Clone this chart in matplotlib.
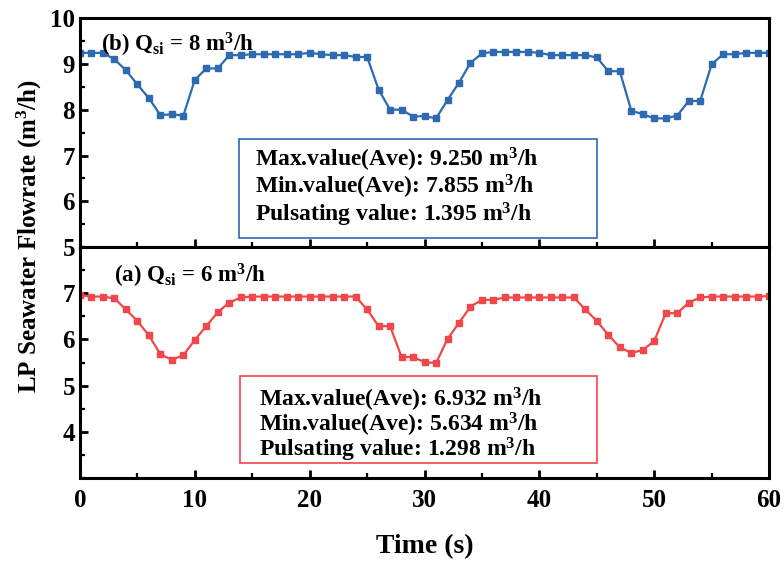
import numpy as np
import matplotlib
matplotlib.use("Agg")
import matplotlib.pyplot as plt
from matplotlib.patches import Rectangle
from matplotlib.ticker import MultipleLocator

plt.rcParams['font.family'] = ['Liberation Serif']
plt.rcParams['font.weight'] = 'bold'
plt.rcParams['mathtext.fontset'] = 'custom'
plt.rcParams['mathtext.rm'] = 'Liberation Serif:bold'
plt.rcParams['mathtext.bf'] = 'Liberation Serif:bold'
plt.rcParams['mathtext.it'] = 'Liberation Serif:bold'

# Data (time in s, flowrate in m3/h)
time = np.arange(0, 61)
flow_8 = [9.24, 9.24, 9.24, 9.10, 8.86, 8.55, 8.25, 7.88, 7.90, 7.87,
          8.65, 8.90, 8.90, 9.19, 9.19, 9.21, 9.21, 9.21, 9.21, 9.21,
          9.24, 9.21, 9.19, 9.19, 9.15, 9.15, 8.44, 8.00, 8.00, 7.85,
          7.86, 7.81, 8.21, 8.59, 9.02, 9.23, 9.26, 9.26, 9.26, 9.26,
          9.24, 9.19, 9.19, 9.19, 9.19, 9.14, 8.84, 8.84, 7.98, 7.90,
          7.81, 7.81, 7.87, 8.19, 8.19, 8.99, 9.21, 9.21, 9.24, 9.24,
          9.24]
flow_6 = [6.96, 6.93, 6.93, 6.89, 6.65, 6.40, 6.09, 5.68, 5.56, 5.66,
          5.99, 6.29, 6.59, 6.80, 6.91, 6.93, 6.93, 6.93, 6.93, 6.93,
          6.93, 6.93, 6.93, 6.93, 6.93, 6.65, 6.29, 6.29, 5.62, 5.62,
          5.51, 5.49, 6.01, 6.36, 6.71, 6.86, 6.86, 6.91, 6.91, 6.91,
          6.91, 6.91, 6.91, 6.91, 6.65, 6.40, 6.10, 5.83, 5.71, 5.77,
          5.97, 6.57, 6.57, 6.80, 6.91, 6.93, 6.93, 6.93, 6.93, 6.93,
          6.94]

stats_8 = ["Max.value(Ave): 9.250 m$^3$/h",
           "Min.value(Ave): 7.855 m$^3$/h",
           "Pulsating value: 1.395 m$^3$/h"]
stats_6 = ["Max.value(Ave): 6.932 m$^3$/h",
           "Min.value(Ave): 5.634 m$^3$/h",
           "Pulsating value: 1.298 m$^3$/h"]

blue = "#2E6AB2"
red = "#F0474B"

fig = plt.figure(figsize=(7.84, 5.63), dpi=100)
axTop = fig.add_axes([0.102, 0.561, 0.879, 0.407])
axBot = fig.add_axes([0.102, 0.151, 0.879, 0.410], sharex=axTop)


def styleAxis(ax):
    for sp in ax.spines.values():
        sp.set_linewidth(2.2)
    ax.tick_params(axis='both', which='major', direction='in', length=6, width=2,
                   labelsize=18, right=False, top=False)
    ax.tick_params(axis='x', which='major', pad=8)
    ax.tick_params(axis='both', which='minor', direction='in', length=3.5, width=1.6,
                   right=False, top=False)
    ax.xaxis.set_minor_locator(MultipleLocator(5))
    ax.yaxis.set_minor_locator(MultipleLocator(0.5))


# Top panel: Qsi = 8
axTop.plot(time, flow_8, color=blue, marker='s', markersize=5, linewidth=1.6)
axTop.set_ylim(5, 10)
axTop.set_yticks([5, 6, 7, 8, 9, 10])
styleAxis(axTop)
axTop.tick_params(axis='x', labelbottom=False)
axTop.text(0.03, 0.945, r"(b) $\mathrm{Q_{si}}$ = 8 m$^3$/h", transform=axTop.transAxes,
           fontsize=16.5, fontweight='bold', va='top', ha='left')
axTop.add_patch(Rectangle((0.231, 0.038), 0.519, 0.434, transform=axTop.transAxes,
                          fill=False, edgecolor=blue, linewidth=1.2))
for i, s in enumerate(stats_8):
    axTop.text(0.254, 0.382 - i * 0.12, s, transform=axTop.transAxes,
               fontsize=17, fontweight='bold', va='center', ha='left')

# Bottom panel: Qsi = 6
axBot.plot(time, flow_6, color=red, marker='s', markersize=5, linewidth=1.6)
axBot.set_ylim(3, 8)
axBot.set_yticks([4, 5, 6, 7])
axBot.set_xlim(0, 60)
axBot.set_xticks([0, 10, 20, 30, 40, 50, 60])
styleAxis(axBot)
axBot.text(0.05, 0.935, r"(a) $\mathrm{Q_{si}}$ = 6 m$^3$/h", transform=axBot.transAxes,
           fontsize=16.5, fontweight='bold', va='top', ha='left')
axBot.add_patch(Rectangle((0.232, 0.065), 0.518, 0.377, transform=axBot.transAxes,
                          fill=False, edgecolor=red, linewidth=1.2))
for i, s in enumerate(stats_6):
    axBot.text(0.26, 0.34 - i * 0.11, s, transform=axBot.transAxes,
               fontsize=17, fontweight='bold', va='center', ha='left')

axBot.set_xlabel("Time (s)", fontsize=20, fontweight='bold', labelpad=16)
fig.text(0.038, 0.58, "LP Seawater Flowrate (m$^3$/h)", rotation=90,
         fontsize=18, fontweight='bold', va='center', ha='center')

fig.savefig("out.png", dpi=100)
